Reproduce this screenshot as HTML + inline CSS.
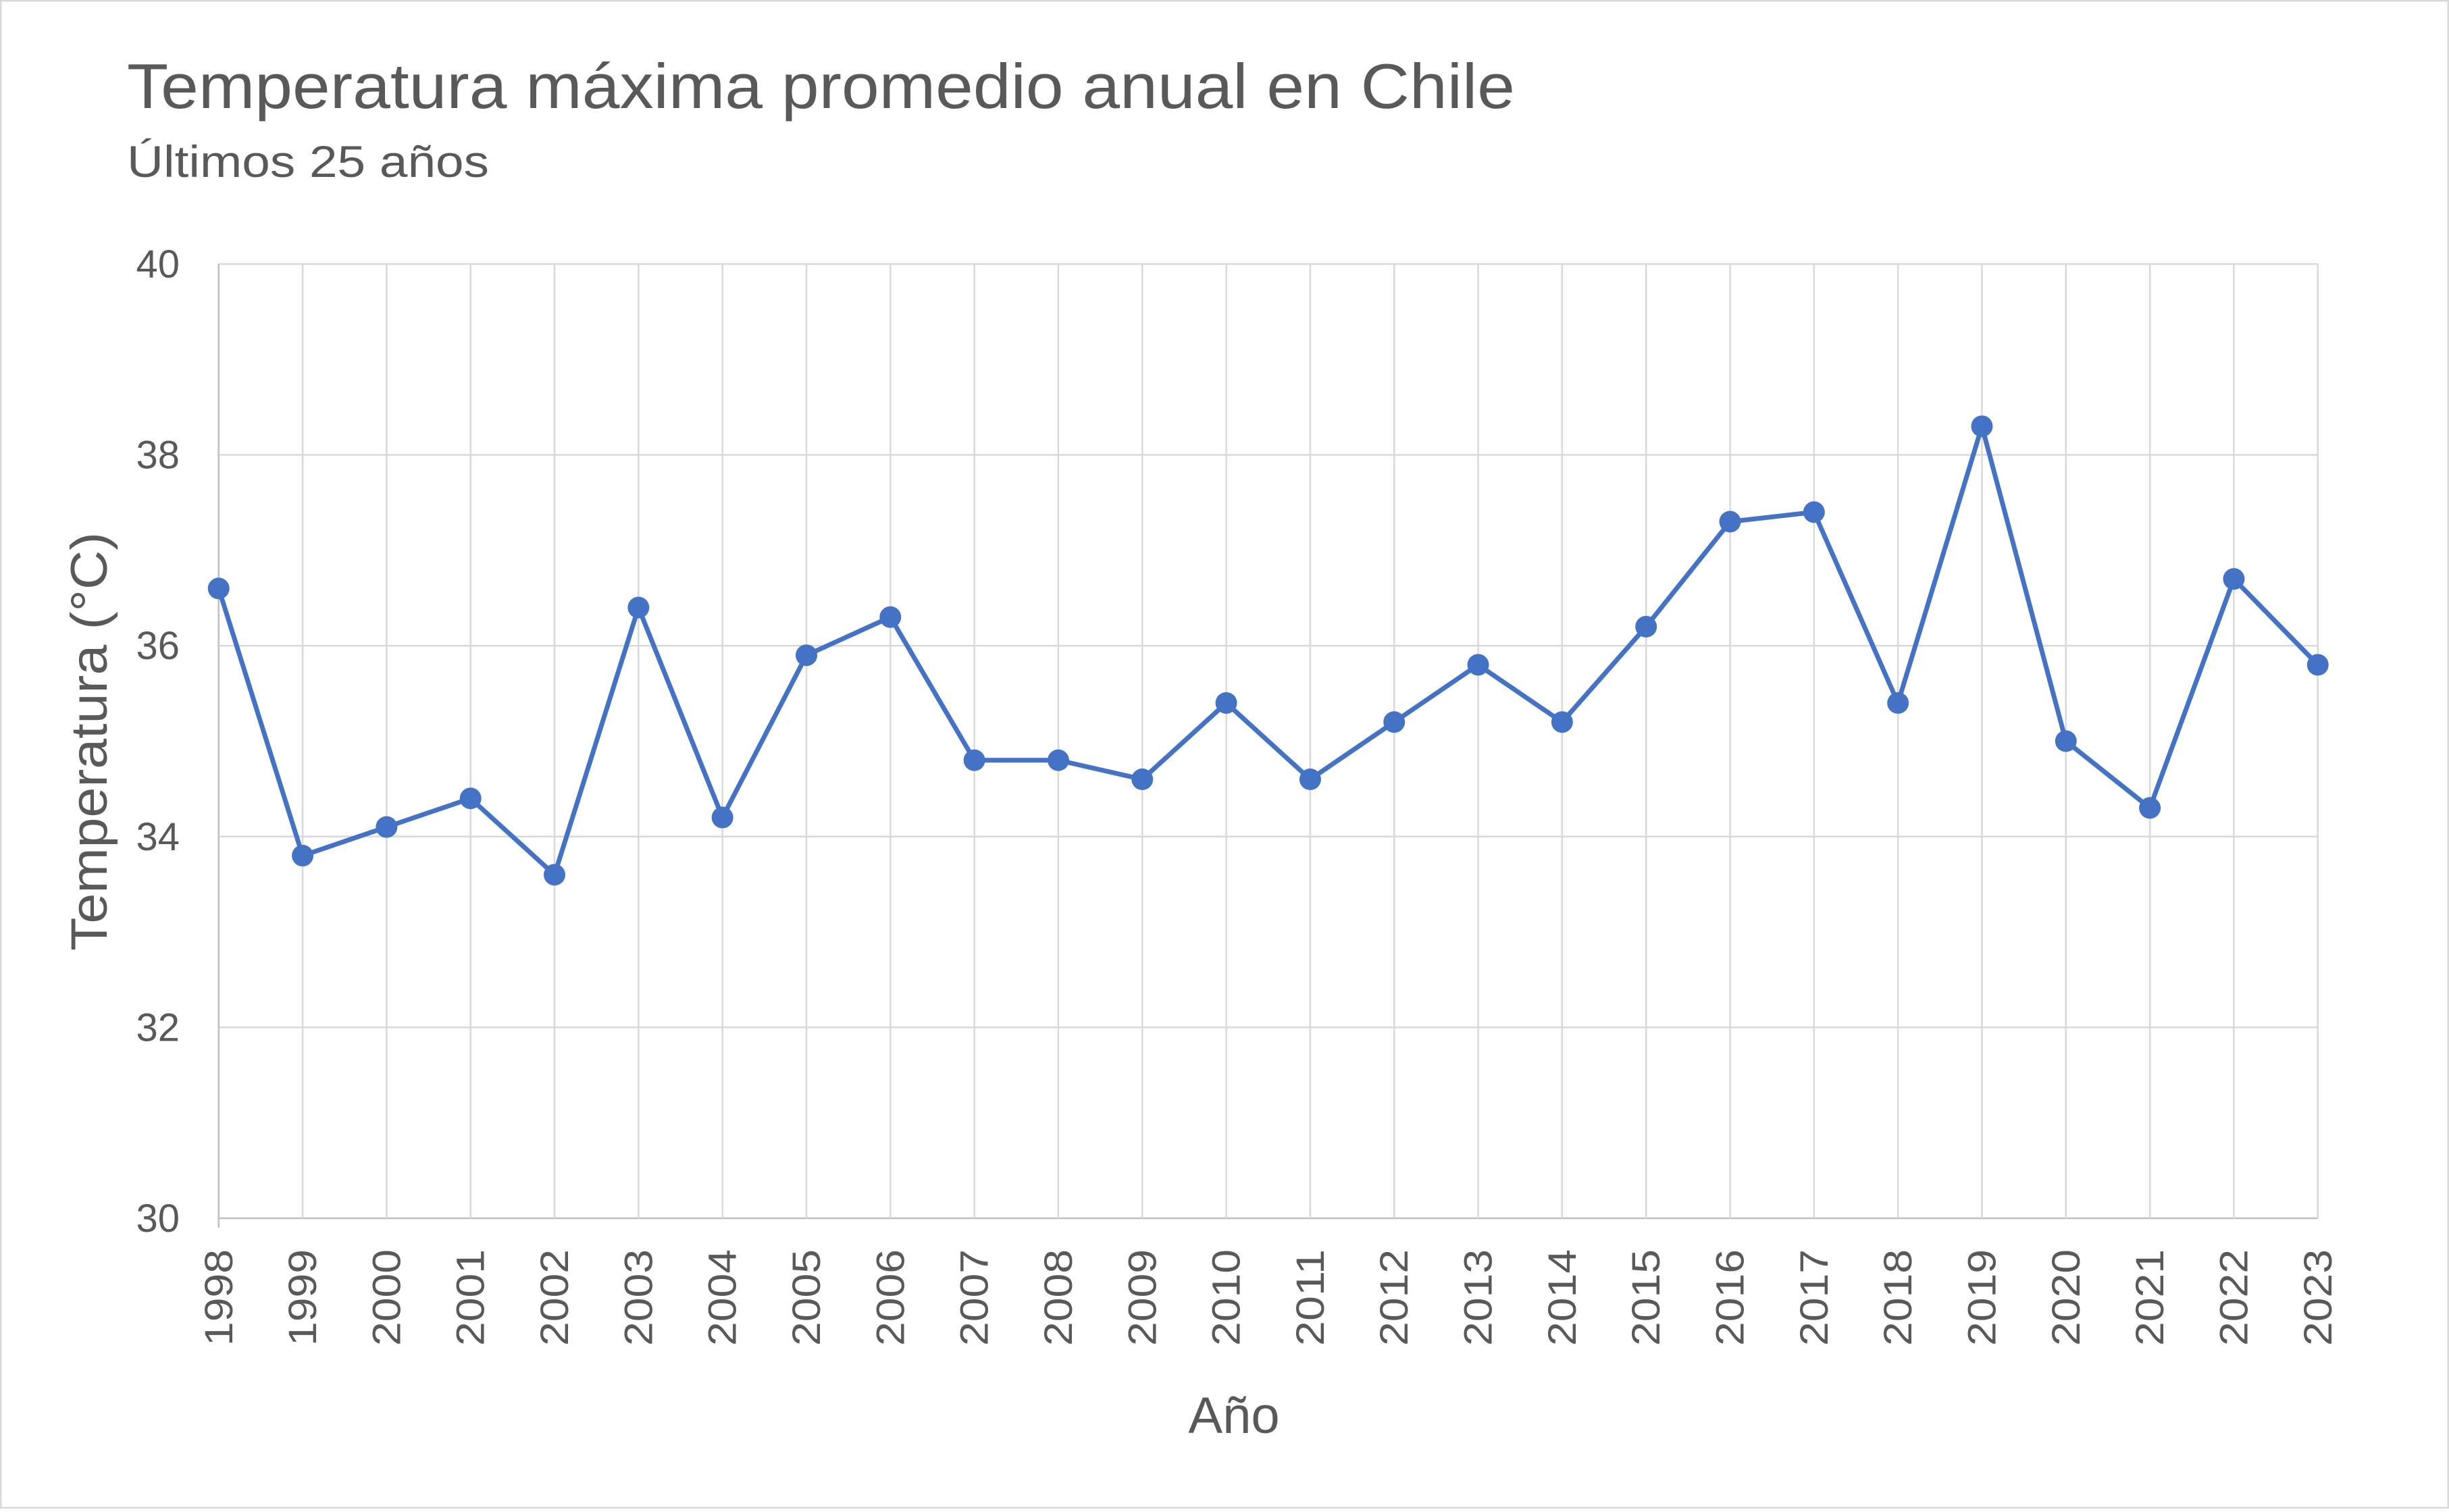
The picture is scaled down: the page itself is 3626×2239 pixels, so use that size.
<!DOCTYPE html>
<html><head><meta charset="utf-8"><style>html,body{margin:0;padding:0;background:#fff}</style></head>
<body>
<svg id="s" width="3626" height="2234" viewBox="0 0 3626 2234" xmlns="http://www.w3.org/2000/svg" font-family="Liberation Sans, sans-serif" fill="#595959">
<rect x="1" y="1" width="3624" height="2232" fill="#fff" stroke="#d9d9d9" stroke-width="3"/>
<text x="188" y="160" font-size="94" textLength="2055" lengthAdjust="spacingAndGlyphs">Temperatura máxima promedio anual en Chile</text>
<text x="188" y="262" font-size="66" textLength="536" lengthAdjust="spacingAndGlyphs">Últimos 25 años</text>
<g id="grid" stroke="#d9d9d9" stroke-width="2.5"></g>
<g id="lab" font-size="58"></g>
<text x="1827" y="2122" font-size="76" text-anchor="middle">Año</text>
<text transform="translate(158,1098) rotate(-90)" font-size="76" text-anchor="middle" textLength="620" lengthAdjust="spacingAndGlyphs">Temperatura (°C)</text>
<g id="ser"></g>
</svg>
<script>
var d=[36.6,33.8,34.1,34.4,33.6,36.4,34.2,35.9,36.3,34.8,34.8,34.6,35.4,34.6,35.2,35.8,35.2,36.2,37.3,37.4,35.4,38.3,35.0,34.3,36.7,35.8];
var x0=323.75,dx=124.32,yb=1804,dy=141.3;
var ns="http://www.w3.org/2000/svg";
function el(p,t,a,txt){var e=document.createElementNS(ns,t);for(var k in a)e.setAttribute(k,a[k]);if(txt)e.textContent=txt;document.getElementById(p).appendChild(e);return e;}
for(var v=30;v<=40;v+=2){var y=yb-(v-30)*dy;el('grid','line',{x1:x0,x2:x0+25*dx,y1:y,y2:y,stroke:v==30?'#bfbfbf':'#d9d9d9'});el('lab','text',{x:266,y:y+20,'text-anchor':'end'},String(v));}
for(var i=0;i<26;i++){var x=x0+i*dx;el('grid','line',{x1:x,x2:x,y1:yb-10*dy,y2:yb+(i==0?14:0),stroke:i==0?'#bfbfbf':'#d9d9d9'});el('lab','text',{transform:'translate('+(x+20)+',1850) rotate(-90)','text-anchor':'end',textLength:143,lengthAdjust:'spacingAndGlyphs'},String(1998+i));}
var pts=d.map(function(v,i){return (x0+i*dx)+','+(yb-(v-30)*dy)}).join(' ');
el('ser','polyline',{points:pts,fill:'none',stroke:'#4472C4','stroke-width':7,'stroke-linejoin':'round'});
d.forEach(function(v,i){el('ser','circle',{cx:x0+i*dx,cy:yb-(v-30)*dy,r:16,fill:'#4472C4'});});
</script>
</body></html>
